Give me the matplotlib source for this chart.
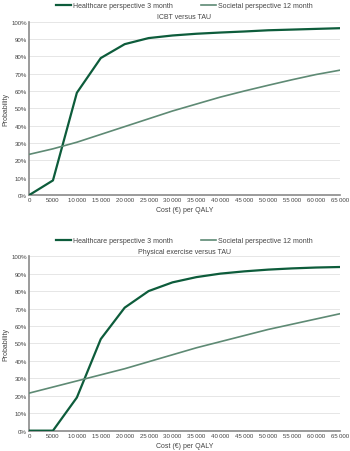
import numpy as np
import matplotlib.pyplot as plt

# willingness-to-pay thresholds (EUR per QALY)
cost = [0, 5000, 10000, 15000, 20000, 25000, 30000, 35000, 40000, 45000, 50000, 55000, 60000, 65000]

# ICBT versus TAU
icbt_health = [0, 8.5, 59, 79, 87, 90.5, 92, 93, 93.7, 94.3, 95, 95.4, 95.8, 96.2]
icbt_society = [23.5, 26.7, 30.5, 35, 39.5, 44, 48.5, 52.5, 56.5, 60, 63.3, 66.5, 69.5, 72]

# Physical exercise versus TAU
pe_health = [0, 0, 19, 52.5, 70.5, 80, 85, 88, 90, 91.3, 92.3, 93, 93.5, 93.8]
pe_society = [21.5, 25, 28.5, 32, 35.5, 39.5, 43.5, 47.5, 51, 54.5, 58, 61, 64, 67]

titles = ["ICBT versus TAU", "Physical exercise versus TAU"]
labels = ["Healthcare perspective 3 month", "Societal perspective 12 month"]
xticks = list(range(0, 65001, 5000))
xticklabels = ["0", "5000"] + [f"{v // 1000}\u2009000" for v in xticks[2:]]

dark = "#0d5c3b"
light = "#5e8a74"
txt = "#444444"

plt.rcParams["font.family"] = ["Liberation Sans", "DejaVu Sans"]

fig = plt.figure(figsize=(3.5, 4.52), dpi=100)
rects = [[0.083, 0.566, 0.888, 0.384], [0.083, 0.045, 0.888, 0.386]]
panels = [(icbt_health, icbt_society), (pe_health, pe_society)]

for rect, (h, s), title in zip(rects, panels, titles):
    ax = fig.add_axes(rect)
    l1, = ax.plot(cost, h, color=dark, lw=1.6, label=labels[0], zorder=3)
    l2, = ax.plot(cost, s, color=light, lw=1.2, label=labels[1], zorder=3)
    ax.set_xlim(0, 65000)
    ax.set_ylim(0, 100)
    ax.set_yticks(range(0, 101, 10))
    ax.set_yticklabels([f"{v}%" for v in range(0, 101, 10)])
    ax.set_xticks(xticks)
    ax.set_xticklabels(xticklabels)
    ax.tick_params(axis="both", labelsize=4.4, colors=txt, length=0, pad=1.5)
    ax.grid(axis="y", color="#e2e2e2", lw=0.6)
    ax.set_axisbelow(True)
    for sp in ["top", "right"]:
        ax.spines[sp].set_visible(False)
    for sp in ["left", "bottom"]:
        ax.spines[sp].set_color("#8a8a8a")
        ax.spines[sp].set_linewidth(1.2)
    ax.set_title(title, fontsize=5.0, color=txt, pad=2.5)
    ax.set_xlabel("Cost (€) per QALY", fontsize=5.0, color=txt, labelpad=3)
    ax.set_ylabel("Probability", fontsize=5.0, color=txt, labelpad=1.5)
    ax.legend(handles=[l1, l2], loc="lower center", bbox_to_anchor=(0.5, 1.07),
              ncol=2, frameon=False, fontsize=5.0, labelcolor=txt,
              handlelength=2.2, handletextpad=0.3, columnspacing=4.0,
              borderaxespad=0, borderpad=0)

fig.savefig("out.png", dpi=100)
